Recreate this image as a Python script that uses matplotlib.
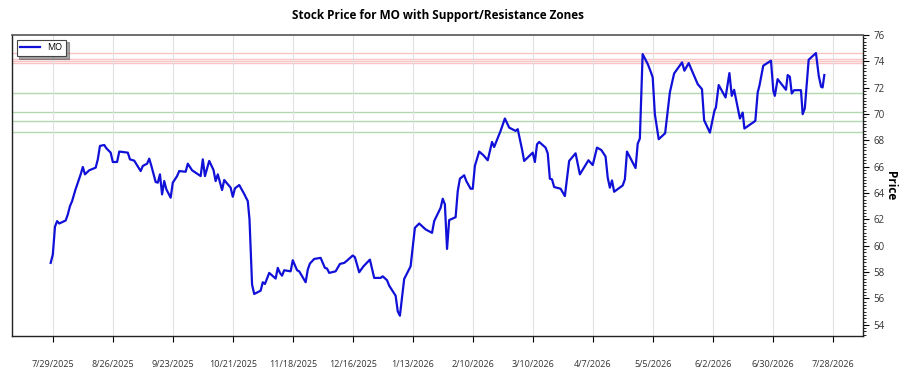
import matplotlib
matplotlib.use("Agg")
import matplotlib.pyplot as plt
import matplotlib.dates as mdates
from matplotlib.ticker import MultipleLocator
import pandas as pd

plt.rcParams['font.family'] = ['Open Sans', 'DejaVu Sans']

title = "Stock Price for MO with Support/Resistance Zones"
ticker = "MO"
base_date = "2025-07-29"

# day offsets from base_date and closing prices
days = [-1, 0, 1, 2, 3, 6, 7, 8, 9, 10.6, 13, 14, 15, 17, 20, 21, 22, 24, 25, 27,
        28, 30, 31, 35, 36, 38, 40, 41, 42, 44, 45, 46, 48, 49, 50, 51, 52, 53, 55, 56,
        57, 58, 59, 62, 63, 65, 69, 70, 71, 73, 75, 76, 77, 79, 80, 83, 84, 85, 87, 89,
        91, 91.8, 92.3, 93, 94, 97, 98, 99, 101, 104, 105, 106,
        107, 108, 111, 112, 114, 115, 118, 119, 120, 122, 125, 127, 128, 129, 132, 134, 136, 137,
        140, 141, 143, 145, 148, 150, 153, 154, 156, 157, 160, 161, 162, 164, 167, 169, 171, 174,
        177, 178, 181, 182, 183, 184, 185, 188, 189, 190, 192, 193, 195, 196, 197, 199, 201,
        203, 205, 206, 209, 211, 213, 216, 217, 219, 220, 224, 225, 226, 227, 230, 231, 232, 233,
        234, 237, 239, 241, 244, 246, 250, 252, 254, 256, 258, 259, 260, 261, 262, 266, 267, 268,
        272, 273, 274,
        275.3, 277.7, 279.2, 280, 281, 282.8, 285.8, 288, 290, 293.7, 294.8, 296.8, 301, 303, 304,
        306.7, 308.8, 309.5, 310.8, 314, 315.8, 316.9, 318, 320.7, 322, 322.8, 327.9, 329, 329.8,
        331.6, 335.2, 336.3, 337, 338.3, 342.2, 343, 344, 344.9, 346, 349.2, 350, 351, 352.8, 356.2,
        357.5, 358.6, 359.3, 360.1]
prices = [58.70, 59.33, 61.44, 61.87, 61.69, 61.92, 62.38, 63.01, 63.39, 64.28, 65.42, 65.98, 65.42, 65.73, 65.93, 66.56, 67.58, 67.65, 67.40, 67.07,
          66.36, 66.36, 67.15, 67.07, 66.56, 66.46, 65.93, 65.67, 66.06, 66.23, 66.61, 66.06, 64.84, 64.79, 65.42, 63.90, 64.91, 64.28, 63.65, 64.79,
          65.04, 65.29, 65.67, 65.62, 66.23, 65.73, 65.29, 66.56, 65.29, 66.44, 65.75, 64.91, 65.42, 64.23, 64.99, 64.41, 63.72, 64.36, 64.61, 64.03,
          63.39, 62.00, 59.97, 57.05, 56.34, 56.59, 57.23, 57.10, 57.94, 57.51, 58.32, 57.94,
          57.73, 58.14, 58.06, 58.90, 58.14, 58.06, 57.23, 58.19, 58.65, 59.00, 59.08, 58.32, 58.27, 57.94, 58.06, 58.62, 58.70, 58.83,
          59.26, 59.13, 57.99, 58.44, 58.95, 57.56, 57.56, 57.68, 57.38, 56.97, 56.21, 55.02, 54.69, 57.48, 58.44, 61.36, 61.69, 61.24,
          60.98, 61.87, 62.88, 63.57, 63.14, 59.76, 61.95, 62.17, 64.15, 65.09, 65.35, 64.91, 64.33, 64.33, 66.06, 67.15, 66.87,
          66.49, 67.88, 67.50, 68.72, 69.66, 68.97, 68.72, 68.85, 67.32, 66.44, 67.07, 66.36, 67.70, 67.88, 67.45, 67.02, 65.09, 65.04,
          64.46, 64.33, 63.77, 66.44, 67.02, 65.42, 66.49, 66.13, 67.45, 67.27, 66.77, 65.17, 64.41, 64.96, 64.10, 64.58, 65.04, 67.15,
          65.90, 67.75, 68.14,
          74.55, 73.79, 73.16, 72.78, 69.99, 68.09, 68.54, 71.64, 73.08, 73.92, 73.29, 73.87, 72.27, 71.89, 69.53,
          68.59, 70.24, 70.50, 72.20, 71.26, 73.11, 71.38, 71.84, 69.66, 70.11, 68.90, 69.48, 71.64, 72.14,
          73.67, 74.05, 71.76, 71.38, 72.65, 71.84, 72.96, 72.83, 71.56, 71.81, 71.81, 69.99, 70.45, 74.12, 74.63,
          72.90, 72.07, 72.02, 72.96]

resistance_levels = [74.62, 74.20, 74.03, 73.86]
support_levels = [71.56, 70.12, 69.46, 68.60]

tick_dates = ["2025-07-29", "2025-08-26", "2025-09-23", "2025-10-21", "2025-11-18", "2025-12-16",
              "2026-01-13", "2026-02-10", "2026-03-10", "2026-04-07", "2026-05-05", "2026-06-02",
              "2026-06-30", "2026-07-28"]

dates = pd.Timestamp(base_date) + pd.to_timedelta(days, unit="D")

fig = plt.figure(figsize=(9, 3.75), dpi=100)
ax = fig.add_axes([12/900, 1 - 336/375, (863 - 12)/900, (336 - 35)/375])

ax.plot(dates, prices, color="#1010d8", lw=1.6, label=ticker, zorder=3)

for lv in resistance_levels:
    ax.axhline(lv, color="#f48a8a", lw=1.0, alpha=0.5, zorder=1)
for lv in support_levels:
    ax.axhline(lv, color="#7cc07c", lw=1.0, alpha=0.6, zorder=1)

ax.set_ylim(53.15, 76.0)
ax.yaxis.tick_right()
ax.yaxis.set_label_position("right")
ax.yaxis.set_major_locator(MultipleLocator(2))
ax.yaxis.set_minor_locator(MultipleLocator(0.25))
ax.tick_params(axis="y", which="major", length=4, labelsize=7, labelcolor="#333333", width=0.8)
ax.tick_params(axis="y", which="minor", length=2, width=0.6)
ax.set_ylabel("Price", rotation=270, labelpad=9, fontsize=8.5, fontweight="bold")

ax.set_xticks(pd.to_datetime(tick_dates))
ax.xaxis.set_major_formatter(mdates.DateFormatter("%-m/%-d/%Y"))
ax.tick_params(axis="x", length=4, labelsize=6.5, labelcolor="#333333", pad=13, width=0.8)
ax.grid(axis="x", color="#e0e0e0", lw=0.8, zorder=0)
ax.margins(x=0.05)

for s in ["left", "bottom", "right"]:
    ax.spines[s].set_color("#222222")
    ax.spines[s].set_linewidth(1.0)
ax.spines["top"].set_color("#555555")
ax.spines["top"].set_linewidth(1.2)

leg = ax.legend(loc="upper left", fontsize=6.5, fancybox=False, shadow=True,
                framealpha=1, edgecolor="#444444", handlelength=2.2,
                borderaxespad=0.5)
leg.get_frame().set_linewidth(0.8)

fig.text(437.5/900, 1 - 15/375, title, ha="center", va="center", fontsize=8.5, fontweight="bold")

fig.savefig("out.png", dpi=100)
